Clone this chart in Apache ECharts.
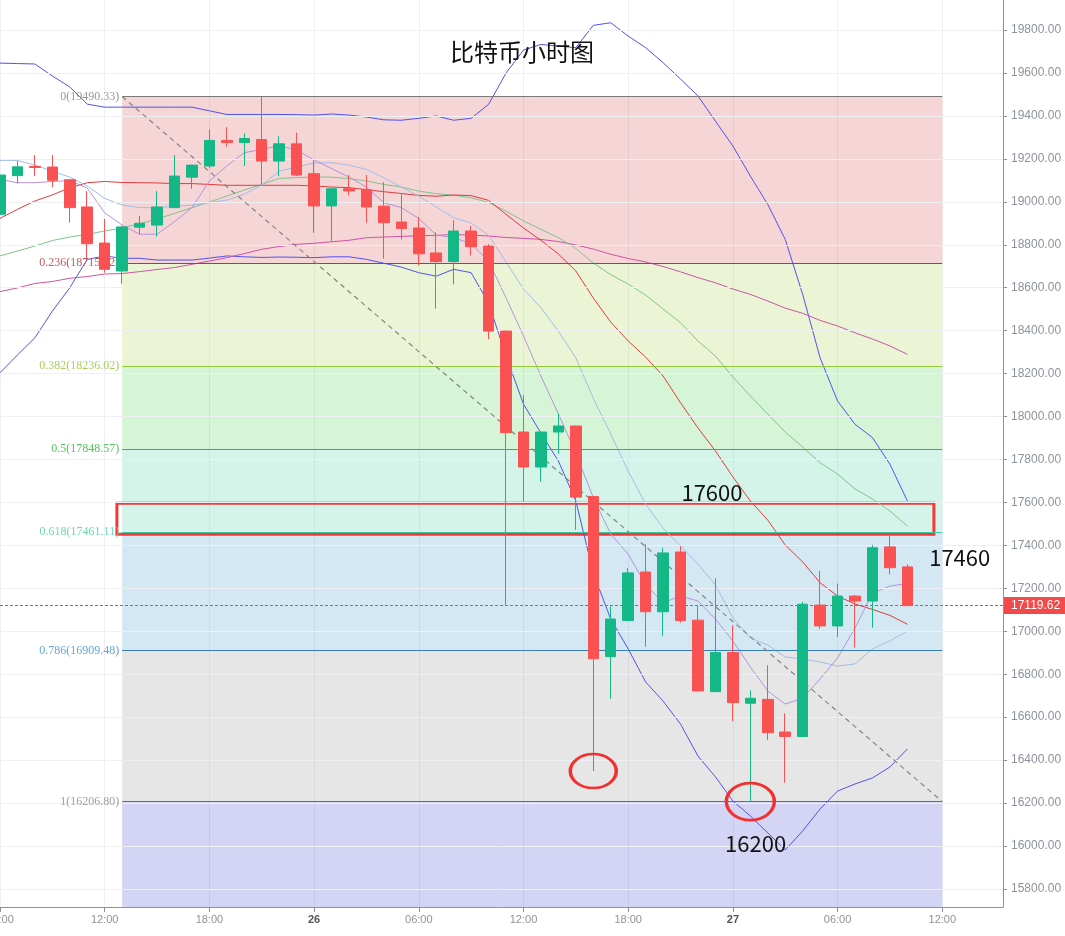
<!DOCTYPE html>
<html>
<head>
<meta charset="utf-8">
<script src="https://cdn.jsdelivr.net/npm/echarts@6.0.0/dist/echarts.min.js"></script>
<style>html,body{margin:0;padding:0;background:#fff}#c{width:1065px;height:936px}</style>
</head>
<body>
<div id="c"></div>
<script>
// ---- DATA ----
const titleText = '比特币小时图';
const startHour = 6;          // first candle: 25th 06:00 (hours after 25th 00:00)
const firstDay = 25;
const opens  = [18942,19122,19165,19162,19103,18976,18808,18678,18882,18892,18973,19115,19167,19286,19276,19290,19190,19270,19131,18981,19061,19056,18980,18906,18878,18762,18722,18864,18794,18398,17928,17765,17928,17956,17628,16882,17050,17276,17091,17369,17052,16719,16901,16665,16683,16531,16510,17122,17025,17164,17141,17393,17300];
const closes = [19125,19163,19160,19100,18973,18805,18686,18883,18900,18976,19120,19171,19286,19276,19295,19190,19270,19125,18981,19061,19051,18976,18903,18876,18758,18722,18864,18791,18398,17925,17765,17928,17956,17625,16872,17057,17272,17091,17365,17050,16722,16901,16668,16688,16528,16510,17126,17025,17164,17141,17389,17296,17119.62];
const lows   = [18864,19086,19120,19069,18903,18728,18670,18619,18849,18838,18973,19061,19156,19257,19167,19081,19120,19120,18856,18817,19032,18903,18735,18824,18704,18502,18616,18751,18361,17122,17604,17697,17827,17472,16349,16686,17048,16928,16978,17040,16720,16717,16582,16206.8,16494,16295,16508,17012,16973,16924,17017,17265,17119];
const highs  = [19130,19190,19218,19218,19105,19050,18921,18889,18934,19050,19218,19173,19338,19348,19319,19490.33,19306,19322,19193,19063,19125,19125,19092,19040,18929,18859,18914,18887,18802,18400,18100,17930,18013,17958,17630,17116,17294,17405,17389,17397,17122,17247,17028,16725,16842,16618,17137,17281,17222,17169,17402,17444,17312];
const bbUpper = [19646,19644,19642,19586,19535,19455,19441,19441,19441,19441,19441,19441,19424,19407,19407,19407,19407,19406,19404,19409,19404,19395,19382,19380,19389,19400,19380,19389,19454,19600,19707,19733,19725,19718,19822,19834,19772,19718,19648,19572,19493,19376,19260,19120,18988,18825,18569,18273,18072,17964,17902,17778,17607];
const bbLower = [18204,18287,18367,18491,18600,18732,18748,18737,18737,18729,18729,18729,18738,18748,18744,18741,18743,18742,18740,18744,18744,18732,18714,18696,18670,18654,18686,18670,18529,18282,18058,17923,17793,17607,17271,17057,16918,16764,16675,16568,16419,16322,16210,16140,16061,15982,16070,16173,16256,16289,16317,16368,16452];
const bbMid   = [18923,18965,19004,19032,19066,19089,19095,19090,19089,19088,19085,19085,19081,19077,19077,19077,19077,19077,19074,19069,19066,19057,19047,19039,19030,19026,19032,19029,19007,18942,18878,18821,18757,18678,18552,18440,18352,18277,18189,18064,17947,17840,17719,17607,17518,17402,17323,17226,17164,17127,17102,17074,17033];
const ma5     = [19105,19089,19089,19095,19099,19064,18949,18892,18849,18849,18908,18973,19097,19167,19229,19244,19262,19241,19195,19155,19115,19069,18996,18973,18923,18845,18833,18805,18724,18553,18375,18189,18012,17830,17622,17453,17359,17219,17133,17164,17141,17057,16955,16834,16722,16661,16689,16778,16876,17015,17178,17211,17222];
const ma10    = [19193,19193,19171,19143,19115,19074,19016,18985,18973,18973,18980,18984,18996,19008,19035,19078,19143,19162,19181,19182,19171,19151,19112,19069,19027,18976,18926,18901,18845,18720,18594,18507,18398,18273,18086,17919,17746,17593,17481,17397,17313,17216,17062,16969,16936,16880,16871,16857,16838,16848,16918,16955,17001];
const maGreen = [18748,18771,18794,18820,18836,18849,18864,18879,18898,18920,18946,18973,18999,19027,19055,19081,19109,19113,19116,19115,19108,19097,19081,19069,19050,19038,19031,19019,18997,18957,18911,18872,18833,18783,18715,18661,18617,18566,18501,18437,18352,18282,18184,18096,18012,17928,17858,17785,17732,17663,17616,17560,17490];
const maMagenta = [18582,18599,18620,18629,18644,18652,18664,18666,18675,18685,18694,18709,18724,18740,18759,18779,18792,18802,18807,18814,18821,18833,18836,18839,18842,18844,18848,18845,18841,18834,18830,18825,18815,18799,18780,18756,18736,18720,18699,18674,18647,18623,18594,18569,18538,18505,18481,18448,18422,18390,18361,18329,18290];

const fibRatios = ['0','0.236','0.382','0.5','0.618','0.786','1'];
const fibValues = [19490.33,18715.42,18236.02,17848.57,17461.11,16909.48,16206.80];
const fibStartHour = 13, fibEndHour = 60;

const yTicks = [15800,16000,16200,16400,16600,16800,17000,17200,17400,17600,17800,18000,18200,18400,18600,18800,19000,19200,19400,19600,19800];
const yMin = 15716, yMax = 19940;
const xMin = 6, xMax = 63.48, xInterval = 6;

const lastPrice = 17119.62;
const zone = {top: 17596, bottom: 17452, from: 12.7, to: 59.52};
const notes = [
  {text: '17600', hour: 46.8, value: 17644},
  {text: '17460', hour: 61.0, value: 17341},
  {text: '16200', hour: 49.3, value: 16009}
];
const circledCandles = [34, 43];

// ---- STYLES ----
const fibLineColors  = ['#7a7a7a','#c9302c','#96c83c','#3cb44a','#3cc8a0','#3a7cb4','#6e6e78'];
const fibLabelColors = ['#9a9a9a','#c85a5a','#a8cf5a','#52c85a','#6cd7b0','#62a8dc','#a0a0a0'];
const fibFillColors  = ['rgba(205,45,45,0.2)','rgba(154,205,50,0.2)','rgba(50,200,50,0.2)','rgba(40,200,150,0.2)','rgba(40,140,200,0.2)','rgba(128,128,128,0.2)','rgba(40,40,200,0.2)'];

const xs = opens.map((_, i) => startHour + i);
const pair = arr => arr.map((v, i) => [xs[i], v]);

const candleData = opens.map((o, i) => [xs[i], o, closes[i], lows[i], highs[i]]);

const fibAreas = [];
for (let k = 0; k < fibValues.length; k++) {
  const bottom = k + 1 < fibValues.length ? fibValues[k + 1] : yMin;
  fibAreas.push([{coord: [fibStartHour, fibValues[k]], itemStyle: {color: fibFillColors[k]}},
                 {coord: [fibEndHour, bottom]}]);
}
const fibLines = fibValues.map((v, k) => [
  {coord: [fibStartHour, v],
   lineStyle: {color: fibLineColors[k], width: 1, type: 'solid'},
   label: {show: true, position: 'start', distance: 3,
           formatter: fibRatios[k] + '(' + v.toFixed(2) + ')',
           color: fibLabelColors[k], fontSize: 12, fontFamily: 'Liberation Serif'}},
  {coord: [fibEndHour, v]}
]);
fibLines.push([
  {coord: [fibStartHour, fibValues[0]], lineStyle: {color: '#858585', width: 1.2, type: [5, 4]}, label: {show: false}},
  {coord: [fibEndHour, fibValues[fibValues.length - 1]]}
]);

const lineSeries = (name, arr, color, extra) => Object.assign({
  name, type: 'line', data: pair(arr), showSymbol: false, symbol: 'none', silent: true,
  lineStyle: {color, width: 1}, z: 3, animation: false
}, extra || {});

const pad = n => (n < 10 ? '0' : '') + n;

const option = {
  animation: false,
  backgroundColor: '#fff',
  grid: {left: 0, right: 62, top: 0, bottom: 29, containLabel: false, outerBoundsMode: 'none'},
  graphic: [{
    type: 'text', x: 522, y: 52, z: 100,
    style: {text: titleText, font: '24px "Noto Sans CJK SC"', fill: '#111', align: 'center', verticalAlign: 'middle'}
  }],
  xAxis: {
    type: 'value', min: xMin, max: xMax, interval: xInterval,
    axisLine: {show: true, lineStyle: {color: '#8a93a3', width: 1}},
    axisTick: {show: true, length: 5, lineStyle: {color: '#8a93a3'}},
    splitLine: {show: true, lineStyle: {color: '#eef0f3', width: 1}},
    axisLabel: {
      show: true, showMaxLabel: false, margin: 7, color: '#8d939c', fontSize: 11, fontFamily: 'Liberation Sans',
      formatter: v => {
        const h = Math.round(v);
        if (h % 24 === 0) return '{d|' + (firstDay + h / 24) + '}';
        return pad(h % 24) + ':00';
      },
      rich: {d: {fontWeight: 'bold', color: '#555', fontSize: 11, fontFamily: 'Liberation Sans'}}
    }
  },
  yAxis: {
    type: 'value', position: 'right', min: yMin, max: yMax, scale: true,
    axisLine: {show: true, lineStyle: {color: '#8a93a3', width: 1}},
    axisTick: {show: true, length: 4, customValues: yTicks, lineStyle: {color: '#8a93a3'}},
    splitLine: {show: false},
    axisLabel: {show: true, customValues: yTicks, margin: 8, color: '#8d939c', fontSize: 12, fontFamily: 'Liberation Sans',
                formatter: v => Number(v).toFixed(2)}
  },
  series: [
    {
      name: 'grid', type: 'line', data: [], z: 0, silent: true,
      markLine: {silent: true, symbol: ['none', 'none'], animation: false, label: {show: false},
        lineStyle: {color: '#eef0f3', width: 1, type: 'solid'},
        data: yTicks.map(v => ({yAxis: v}))}
    },
    {
      name: 'fib', type: 'line', data: [], z: 1, silent: true,
      markArea: {silent: true, animation: false, label: {show: false}, data: fibAreas},
      markLine: {silent: true, symbol: ['none', 'none'], animation: false, data: fibLines}
    },
    lineSeries('bbLower', bbLower, '#5252ee', {stack: 'bb', z: 2}),
    {
      name: 'bbBand', type: 'line', stack: 'bb', z: 2, silent: true, showSymbol: false, symbol: 'none',
      data: pair(bbUpper.map((u, i) => u - bbLower[i])),
      lineStyle: {width: 0, opacity: 0},
      areaStyle: {color: 'rgba(60,60,160,0.15)', opacity: 1}
    },
    lineSeries('bbUpper', bbUpper, '#5252ee'),
    lineSeries('maMagenta', maMagenta, '#cc55a4'),
    lineSeries('maGreen', maGreen, '#80c48a'),
    lineSeries('bbMid', bbMid, '#e03c3c'),
    lineSeries('ma10', ma10, '#a2bde6'),
    lineSeries('ma5', ma5, '#b592dd'),
    {
      name: 'k', type: 'candlestick', z: 5, barWidth: 11, silent: true,
      data: candleData,
      encode: {x: 0, y: [1, 2, 3, 4]},
      itemStyle: {color: '#13b886', color0: '#fa5252', borderColor: '#13b886', borderColor0: '#fa5252', borderWidth: 1}
    },
    {
      name: 'notes', type: 'line', data: [], z: 10, silent: true,
      markArea: {silent: true, animation: false, label: {show: false},
        itemStyle: {color: 'rgba(0,0,0,0)', borderColor: '#f23a3a', borderWidth: 3},
        data: [[{coord: [zone.from, zone.top]}, {coord: [zone.to, zone.bottom]}]]},
      markLine: {silent: true, symbol: ['none', 'none'], animation: false,
        lineStyle: {color: '#f04545', width: 1, type: [3, 2]},
        label: {show: true, position: 'end', distance: 1, formatter: lastPrice.toFixed(2),
                color: '#fff', backgroundColor: '#f04a4a', padding: [3, 7, 2, 7], fontSize: 12, fontFamily: 'Liberation Sans'},
        data: [{yAxis: lastPrice}]},
      markPoint: {silent: true, animation: false, symbol: 'rect', symbolSize: 1,
        itemStyle: {color: 'rgba(0,0,0,0)'},
        label: {show: true, position: 'inside', color: '#111', fontSize: 22, fontFamily: 'Noto Sans CJK SC'},
        data: notes.map(n => ({coord: [n.hour, n.value], label: {formatter: n.text}}))}
    },
    {
      name: 'circles', type: 'scatter', z: 11, silent: true,
      data: circledCandles.map((idx, j) => ({value: [xs[idx], lows[idx]], symbolSize: j === 0 ? [46, 34] : [48, 37]})),
      symbol: 'circle',
      itemStyle: {color: 'rgba(0,0,0,0)', borderColor: '#f23030', borderWidth: 3, opacity: 1}
    }
  ]
};

const chart = echarts.init(document.getElementById('c'), null, {renderer: 'canvas'});
chart.setOption(option);
</script>
</body>
</html>
